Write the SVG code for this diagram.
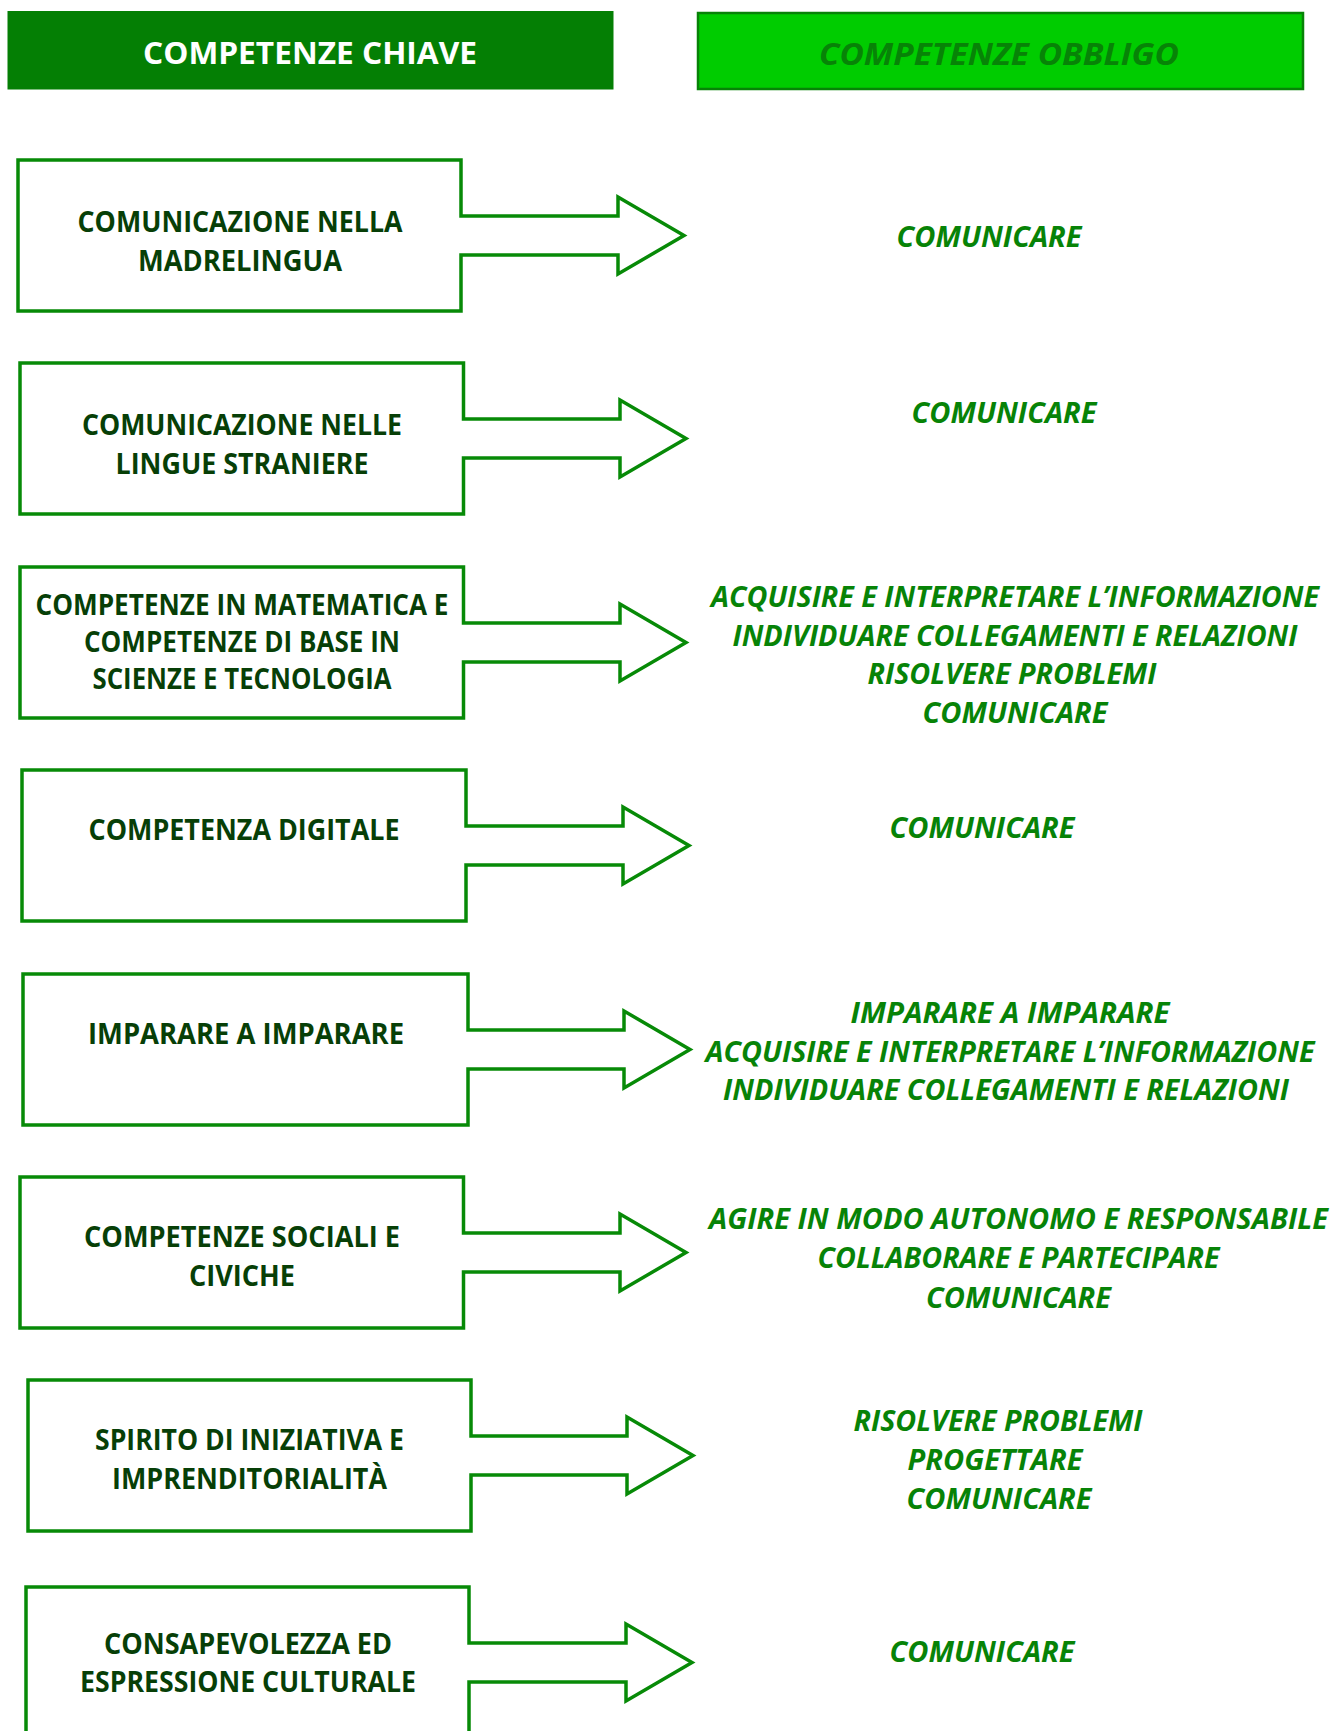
<svg xmlns="http://www.w3.org/2000/svg" width="1332" height="1731" viewBox="0 0 1332 1731">
<style>
.box{fill:#ffffff;stroke:#078A07;stroke-width:3.5;stroke-linejoin:miter}
.kt{font-family:"Open Sans","Liberation Sans",sans-serif;font-weight:bold;font-size:28px;fill:#073F07;text-anchor:middle}
.ot{font-family:"Open Sans","Liberation Sans",sans-serif;font-weight:bold;font-style:italic;font-size:28px;fill:#078307;text-anchor:middle}
.h1t{font-family:"Open Sans","Liberation Sans",sans-serif;font-weight:bold;font-size:31px;fill:#ffffff;text-anchor:middle}
.h2t{font-family:"Open Sans","Liberation Sans",sans-serif;font-weight:bold;font-style:italic;font-size:31px;fill:#078307;text-anchor:middle}
</style>
<rect width="1332" height="1731" fill="#ffffff"/>
<g id="header-chiave">
<rect x="7.5" y="11" width="606" height="78.5" fill="#047F04"/>
<text class="h1t" x="310" y="64" textLength="334" lengthAdjust="spacingAndGlyphs">COMPETENZE CHIAVE</text>
</g>
<g id="header-obbligo">
<rect x="698" y="13" width="605" height="76" fill="#00CC00" stroke="#078307" stroke-width="2.5"/>
<text class="h2t" x="999" y="65" textLength="360" lengthAdjust="spacingAndGlyphs">COMPETENZE OBBLIGO</text>
</g>
<g id="connectors">
<path class="box" d="M18,160 H461 V216 H618 V197 L684,235.5 L618,274 V255 H461 V311 H18 Z"/>
<path class="box" d="M20,363 H463.5 V419 H620 V400 L686,438.5 L620,477 V458 H463.5 V514 H20 Z"/>
<path class="box" d="M20,567 H463.5 V623 H620 V604 L686,642.5 L620,681 V662 H463.5 V718 H20 Z"/>
<path class="box" d="M22,770 H466 V826 H623 V807 L689,845.5 L623,884 V865 H466 V921 H22 Z"/>
<path class="box" d="M23,974 H468 V1030 H624 V1011 L690,1049.5 L624,1088 V1069 H468 V1125 H23 Z"/>
<path class="box" d="M20,1177 H463.5 V1233 H620 V1214 L686,1252.5 L620,1291 V1272 H463.5 V1328 H20 Z"/>
<path class="box" d="M28,1380 H471 V1436 H627 V1417 L693,1455.5 L627,1494 V1475 H471 V1531 H28 Z"/>
<path class="box" d="M26,1587 H469 V1643 H626 V1624 L692,1662.5 L626,1701 V1682 H469 V1740 H26 Z"/>
</g>
<g id="k1">
<text class="kt" x="240" y="232" textLength="325" lengthAdjust="spacingAndGlyphs">COMUNICAZIONE NELLA</text>
<text class="kt" x="240" y="271" textLength="204" lengthAdjust="spacingAndGlyphs">MADRELINGUA</text>
</g>
<g id="k2">
<text class="kt" x="242" y="435" textLength="320" lengthAdjust="spacingAndGlyphs">COMUNICAZIONE NELLE</text>
<text class="kt" x="242" y="474" textLength="253" lengthAdjust="spacingAndGlyphs">LINGUE STRANIERE</text>
</g>
<g id="k3">
<text class="kt" x="242" y="615" textLength="413" lengthAdjust="spacingAndGlyphs">COMPETENZE IN MATEMATICA E</text>
<text class="kt" x="242" y="652" textLength="316" lengthAdjust="spacingAndGlyphs">COMPETENZE DI BASE IN</text>
<text class="kt" x="242" y="689" textLength="299" lengthAdjust="spacingAndGlyphs">SCIENZE E TECNOLOGIA</text>
</g>
<g id="k4">
<text class="kt" x="244" y="840" textLength="311" lengthAdjust="spacingAndGlyphs">COMPETENZA DIGITALE</text>
</g>
<g id="k5">
<text class="kt" x="246" y="1044" textLength="316" lengthAdjust="spacingAndGlyphs">IMPARARE A IMPARARE</text>
</g>
<g id="k6">
<text class="kt" x="242" y="1247" textLength="316" lengthAdjust="spacingAndGlyphs">COMPETENZE SOCIALI E</text>
<text class="kt" x="242" y="1286" textLength="106" lengthAdjust="spacingAndGlyphs">CIVICHE</text>
</g>
<g id="k7">
<text class="kt" x="249.5" y="1450" textLength="309" lengthAdjust="spacingAndGlyphs">SPIRITO DI INIZIATIVA E</text>
<text class="kt" x="249.5" y="1489" textLength="275" lengthAdjust="spacingAndGlyphs">IMPRENDITORIALITÀ</text>
</g>
<g id="k8">
<text class="kt" x="248" y="1654" textLength="288" lengthAdjust="spacingAndGlyphs">CONSAPEVOLEZZA ED</text>
<text class="kt" x="248" y="1692" textLength="336" lengthAdjust="spacingAndGlyphs">ESPRESSIONE CULTURALE</text>
</g>
<g id="o1">
<text class="ot" x="989" y="247" textLength="185" lengthAdjust="spacingAndGlyphs">COMUNICARE</text>
</g>
<g id="o2">
<text class="ot" x="1004" y="423" textLength="185" lengthAdjust="spacingAndGlyphs">COMUNICARE</text>
</g>
<g id="o3">
<text class="ot" x="1015" y="607" textLength="608" lengthAdjust="spacingAndGlyphs">ACQUISIRE E INTERPRETARE L’INFORMAZIONE</text>
<text class="ot" x="1015" y="646" textLength="565" lengthAdjust="spacingAndGlyphs">INDIVIDUARE COLLEGAMENTI E RELAZIONI</text>
<text class="ot" x="1012" y="684" textLength="289" lengthAdjust="spacingAndGlyphs">RISOLVERE PROBLEMI</text>
<text class="ot" x="1015" y="723" textLength="185" lengthAdjust="spacingAndGlyphs">COMUNICARE</text>
</g>
<g id="o4">
<text class="ot" x="982" y="838" textLength="185" lengthAdjust="spacingAndGlyphs">COMUNICARE</text>
</g>
<g id="o5">
<text class="ot" x="1010" y="1023" textLength="319" lengthAdjust="spacingAndGlyphs">IMPARARE A IMPARARE</text>
<text class="ot" x="1010" y="1062" textLength="609" lengthAdjust="spacingAndGlyphs">ACQUISIRE E INTERPRETARE L’INFORMAZIONE</text>
<text class="ot" x="1006" y="1100" textLength="566" lengthAdjust="spacingAndGlyphs">INDIVIDUARE COLLEGAMENTI E RELAZIONI</text>
</g>
<g id="o6">
<text class="ot" x="1018.5" y="1229" textLength="619" lengthAdjust="spacingAndGlyphs">AGIRE IN MODO AUTONOMO E RESPONSABILE</text>
<text class="ot" x="1018.5" y="1268" textLength="402" lengthAdjust="spacingAndGlyphs">COLLABORARE E PARTECIPARE</text>
<text class="ot" x="1018.5" y="1308" textLength="185" lengthAdjust="spacingAndGlyphs">COMUNICARE</text>
</g>
<g id="o7">
<text class="ot" x="998" y="1431" textLength="289" lengthAdjust="spacingAndGlyphs">RISOLVERE PROBLEMI</text>
<text class="ot" x="995" y="1470" textLength="175" lengthAdjust="spacingAndGlyphs">PROGETTARE</text>
<text class="ot" x="999" y="1509" textLength="185" lengthAdjust="spacingAndGlyphs">COMUNICARE</text>
</g>
<g id="o8">
<text class="ot" x="982" y="1662" textLength="185" lengthAdjust="spacingAndGlyphs">COMUNICARE</text>
</g>
</svg>
